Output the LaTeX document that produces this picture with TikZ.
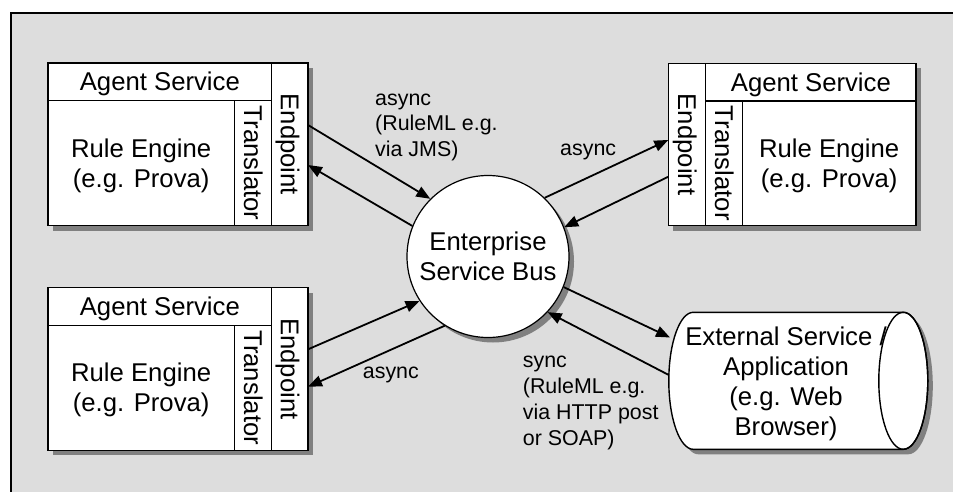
\documentclass[tikz,border=0pt]{standalone}
\usepackage{fontspec}
\setmainfont{Liberation Sans}
\usepackage{graphicx}
\usetikzlibrary{arrows.meta,shadows,calc}

\definecolor{panelgray}{RGB}{221,221,221}
\definecolor{shadowgray}{RGB}{128,128,128}

% strut with the ascent/descent of the sans font, keeps text placement even
\newcommand\fstrut{\rule[-0.212em]{0pt}{1.117em}}
\newcommand\boxfont{\fontsize{25.7}{30}\selectfont}
\newcommand\notefont{\fontsize{21.4}{25.5}\selectfont}

\begin{document}
\begin{tikzpicture}[x=1pt,y=-1pt,
  cell/.style={draw,fill=white,line width=1.4pt,inner sep=0pt,outer sep=0pt,
    font=\boxfont,align=center,anchor=north west},
  shadowed/.style={drop shadow={shadow xshift=5pt,shadow yshift=-5pt,
    fill=shadowgray,opacity=1}},
  flow/.style={line width=1.8pt,-{Triangle[length=14pt,width=11pt]}},
  note/.style={font=\notefont,align=left,anchor=north west,inner sep=0pt}]

\useasboundingbox (0,0) rectangle (953,492);
\clip (0,0) rectangle (953,492);

% panel
\fill[panelgray] (11,13) rectangle (970,510);
\draw[line width=1.3pt] (970,13) -- (11,13) -- (11,510);

% agent service, top left
\node[cell,shadowed,minimum width=260pt,minimum height=162.7pt] (tl) at (48,63) {};
\node[cell,minimum width=223.7pt,minimum height=37.7pt] (tlHead) at (48,63) {\fstrut Agent Service};
\node[cell,minimum width=186.3pt,minimum height=125pt] (tlCore) at (48,100.7) {\fstrut Rule Engine\\(e.g. Prova)\fstrut};
\node[cell,minimum width=37.4pt,minimum height=125pt] (tlTrans) at (234.3,100.7) {\rotatebox{-90}{\fstrut Translator}};
\node[cell,minimum width=36.3pt,minimum height=162.7pt] (tlEnd) at (271.7,63) {\rotatebox{-90}{\fstrut Endpoint}};

% agent service, bottom left
\node[cell,shadowed,minimum width=260pt,minimum height=162.7pt] (bl) at (48,287.5) {};
\node[cell,minimum width=223.7pt,minimum height=37.7pt] (blHead) at (48,287.5) {\fstrut Agent Service};
\node[cell,minimum width=186.3pt,minimum height=125pt] (blCore) at (48,325.2) {\fstrut Rule Engine\\(e.g. Prova)\fstrut};
\node[cell,minimum width=37.4pt,minimum height=125pt] (blTrans) at (234.3,325.2) {\rotatebox{-90}{\fstrut Translator}};
\node[cell,minimum width=36.3pt,minimum height=162.7pt] (blEnd) at (271.7,287.5) {\rotatebox{-90}{\fstrut Endpoint}};

% agent service, top right
\node[cell,shadowed,minimum width=247.7pt,minimum height=162pt] (tr) at (668.3,63.5) {};
\node[cell,minimum width=37.4pt,minimum height=162pt] (trEnd) at (668.3,63.5) {\rotatebox{-90}{\fstrut Endpoint}};
\node[cell,minimum width=210.3pt,minimum height=37.5pt] (trHead) at (705.7,63.5) {\fstrut Agent Service};
\node[cell,minimum width=36.6pt,minimum height=124.5pt] (trTrans) at (705.7,101) {\rotatebox{-90}{\fstrut Translator}};
\node[cell,minimum width=173.7pt,minimum height=124.5pt] (trCore) at (742.3,101) {\fstrut Rule Engine\\(e.g. Prova)\fstrut};

% enterprise service bus
\node[circle,draw,fill=white,line width=1.2pt,minimum size=162pt,inner sep=0pt,
  shadowed,font=\boxfont,align=center] (bus) at (488,256.5)
  {\fstrut Enterprise\\Service Bus\fstrut};

% external service drawn as a lying cylinder
\fill[shadowgray,shift={(5,5)}] (693.3,312.3) -- (903.3,312.3)
  arc[start angle=-90,end angle=90,x radius=24.5,y radius=68.5]
  -- (693.3,449.3)
  arc[start angle=90,end angle=270,x radius=24.5,y radius=68.5] -- cycle;
\draw[fill=white,line width=1.4pt] (693.3,312.3) -- (903.3,312.3)
  arc[start angle=-90,end angle=90,x radius=24.5,y radius=68.5]
  -- (693.3,449.3)
  arc[start angle=90,end angle=270,x radius=24.5,y radius=68.5] -- cycle;
\draw[line width=1.4pt] (903.3,380.8) ellipse[x radius=24.5,y radius=68.5];
\node[font=\boxfont,align=center,inner sep=0pt] (ext) at (786,381.5)
  {\fstrut External Service /\\Application\\(e.g. Web\\Browser)\fstrut};
\coordinate (extIn) at (670,337.5);
\coordinate (extOut) at (668.8,375);

% message flows
\draw[flow] ($(tlEnd.north east)!0.381!(tlEnd.south east)$) -- (bus.135);
\draw[flow] (bus.158) -- ($(tlEnd.north east)!0.627!(tlEnd.south east)$);
\draw[flow] (bus.46) -- ($(trEnd.north west)!0.472!(trEnd.south west)$);
\draw[flow] ($(trEnd.north west)!0.699!(trEnd.south west)$) -- (bus.21);
\draw[flow] ($(blEnd.north east)!0.38!(blEnd.south east)$) -- (bus.213);
\draw[flow] (bus.238) -- ($(blEnd.north east)!0.61!(blEnd.south east)$);
\draw[flow] (bus.338) -- (extIn);
\draw[flow] (extOut) -- (bus.317);

% flow labels
\node[note] (noteJms) at (375,85.7) {\fstrut async\\(RuleML e.g.\\via JMS)};
\node[note] (noteTr) at (560,136.2) {\fstrut async};
\node[note] (noteBl) at (362.7,358.7) {\fstrut async};
\node[note,font=\fontsize{21.4}{26}\selectfont] (noteSync) at (522.7,347.7)
  {\fstrut sync\\(RuleML e.g.\\via HTTP post\\or SOAP)};

\end{tikzpicture}
\end{document}
